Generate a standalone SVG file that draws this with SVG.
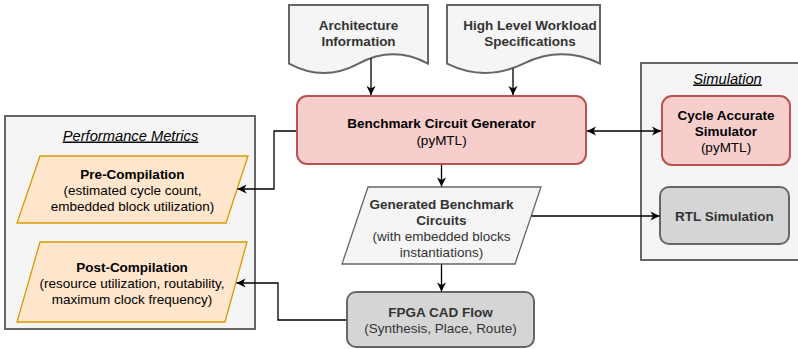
<svg xmlns="http://www.w3.org/2000/svg" width="798" height="349" viewBox="0 0 798 349">
  <style>
    text { font-family: "Liberation Sans", Arial, Helvetica, sans-serif; font-size: 13.5px; text-anchor: middle; }
    .b { font-weight: bold; }
    .dark { fill: #000000; }
    .grey { fill: #333333; }
    .title { font-style: italic; text-decoration: underline; fill: #000000; font-size: 14.7px; }
    .container { fill: #f5f5f5; stroke: #666666; stroke-width: 2; }
    .doc { fill: #f5f5f5; stroke: #666666; stroke-width: 2; }
    .red { fill: #f8cecc; stroke: #b85450; stroke-width: 2; }
    .gbox { fill: #d5d5d5; stroke: #666666; stroke-width: 2; }
    .orange { fill: #ffe6cc; stroke: #d79b00; stroke-width: 1.3; }
    .para { fill: #f5f5f5; stroke: #666666; stroke-width: 1.3; }
    .edge { fill: none; stroke: #000000; stroke-width: 1.3; }
  </style>
  <defs>
    <marker id="arrow" markerUnits="userSpaceOnUse" markerWidth="10" markerHeight="10" viewBox="0 0 10 10" refX="9.5" refY="5" orient="auto-start-reverse">
      <path d="M0.5,0.5 L9.5,5 L0.5,9.5 L3,5 Z" fill="#000000"/>
    </marker>
  </defs>

  <!-- containers -->
  <g id="performance-metrics">
    <rect class="container" x="5" y="116" width="250" height="213"/>
    <text class="title" x="130.5" y="140.5">Performance Metrics</text>
  </g>
  <g id="simulation">
    <rect class="container" x="641" y="63" width="180" height="197"/>
    <text class="title" x="727.5" y="83.5">Simulation</text>
  </g>

  <!-- input documents -->
  <g id="architecture-information">
    <path class="doc" d="M289,5 H428 V63.6 Q393.3,45 358.5,63.6 Q323.8,82.3 289,63.6 Z"/>
    <text class="b grey" x="358.5" y="30">Architecture</text>
    <text class="b grey" x="358.5" y="46">Information</text>
  </g>
  <g id="workload-specifications">
    <path class="doc" d="M447,5 H600 V63.6 Q561.8,45 523.5,63.6 Q485.3,82.3 447,63.6 Z"/>
    <text class="b grey" x="530" y="30">High Level Workload</text>
    <text class="b grey" x="530" y="46">Specifications</text>
  </g>

  <!-- generator -->
  <g id="benchmark-circuit-generator">
    <rect class="red" x="297" y="96" width="289" height="68" rx="10" ry="10"/>
    <text class="b dark" x="441.5" y="128">Benchmark Circuit Generator</text>
    <text class="dark" x="441.5" y="144.5">(pyMTL)</text>
  </g>

  <!-- simulators -->
  <g id="cycle-accurate-simulator">
    <rect class="red" x="662" y="96" width="128" height="69" rx="10" ry="10"/>
    <text class="b dark" x="726" y="120">Cycle Accurate</text>
    <text class="b dark" x="726" y="136.2">Simulator</text>
    <text class="dark" x="726" y="152.4">(pyMTL)</text>
  </g>
  <g id="rtl-simulation">
    <rect class="gbox" x="660" y="187" width="129" height="57" rx="9" ry="9"/>
    <text class="b grey" x="724.5" y="221">RTL Simulation</text>
  </g>

  <!-- generated circuits -->
  <g id="generated-benchmark-circuits">
    <path class="para" d="M368,187 H541 L515,264 H342 Z"/>
    <text class="b grey" x="441.5" y="209">Generated Benchmark</text>
    <text class="b grey" x="441.5" y="225">Circuits</text>
    <text class="grey" x="441.5" y="241">(with embedded blocks</text>
    <text class="grey" x="441.5" y="257">instantiations)</text>
  </g>

  <!-- CAD flow -->
  <g id="fpga-cad-flow">
    <rect class="gbox" x="347" y="292" width="187" height="55" rx="9" ry="9"/>
    <text class="b grey" x="440.5" y="317">FPGA CAD Flow</text>
    <text class="grey" x="440.5" y="333">(Synthesis, Place, Route)</text>
  </g>

  <!-- metrics -->
  <g id="pre-compilation">
    <path class="orange" d="M40,156 H248 L226,223 H17 Z"/>
    <text class="b dark" x="132.5" y="179">Pre-Compilation</text>
    <text class="dark" x="132.5" y="195">(estimated cycle count,</text>
    <text class="dark" x="132.5" y="211">embedded block utilization)</text>
  </g>
  <g id="post-compilation">
    <path class="orange" d="M40,242 H247 L225,322 H17 Z"/>
    <text class="b dark" x="132" y="272">Post-Compilation</text>
    <text class="dark" x="132" y="288">(resource utilization, routability,</text>
    <text class="dark" x="132" y="304">maximum clock frequency)</text>
  </g>

  <!-- connectors -->
  <g id="connectors">
    <path class="edge" d="M371,58.2 V95" marker-end="url(#arrow)"/>
    <path class="edge" d="M513,68.6 V95" marker-end="url(#arrow)"/>
    <path class="edge" d="M587,131 H661" marker-start="url(#arrow)" marker-end="url(#arrow)"/>
    <path class="edge" d="M296,131 H274 V189 H237.5" marker-end="url(#arrow)"/>
    <path class="edge" d="M441.5,165 V186.5" marker-end="url(#arrow)"/>
    <path class="edge" d="M531.5,216 H659.5" marker-end="url(#arrow)"/>
    <path class="edge" d="M441.5,264 V291.5" marker-end="url(#arrow)"/>
    <path class="edge" d="M346,320 H278 V283 H236.5" marker-end="url(#arrow)"/>
  </g>
</svg>
